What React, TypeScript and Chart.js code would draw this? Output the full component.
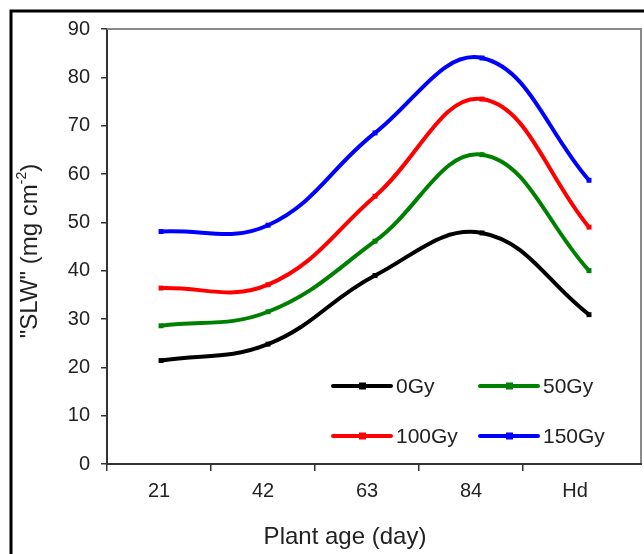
import React, { useEffect, useRef } from "react";
import { Chart, registerables } from "chart.js";

Chart.register(...registerables);

const categories = ["21", "42", "63", "84", "Hd"];
const xPositions = [1, 2, 3, 4, 5];
const seriesNames = ["0Gy", "50Gy", "100Gy", "150Gy"];
const seriesColors = ["#000000", "#008000", "#ff0000", "#0000ff"];
const gy0 = [21.4, 24.8, 39.0, 47.8, 30.9];
const gy50 = [28.6, 31.5, 46.1, 64.0, 40.0];
const gy100 = [36.4, 37.1, 55.4, 75.5, 49.0];
const gy150 = [48.1, 49.4, 68.5, 84.0, 58.7];
const yTicks = [0, 10, 20, 30, 40, 50, 60, 70, 80, 90];
const xTitle = "Plant age (day)";
const yTitleMain = '"SLW" (mg cm';
const yTitleSup = "-2";
const yTitleEnd = ")";

const FONT = "'Liberation Sans', Arial, sans-serif";

const decorPlugin = {
  id: "decor",
  afterDraw(chart: any) {
    const ctx = chart.ctx as CanvasRenderingContext2D;
    const { left, top, bottom } = chart.chartArea;
    const boxRight = 641;
    ctx.save();
    // outer frame
    ctx.strokeStyle = "#000";
    ctx.lineWidth = 3;
    ctx.beginPath();
    ctx.moveTo(11, 600);
    ctx.lineTo(11, 11);
    ctx.lineTo(700, 11);
    ctx.stroke();
    // plot box
    ctx.strokeStyle = "#8a8a8a";
    ctx.lineWidth = 2;
    ctx.beginPath();
    ctx.moveTo(left, top);
    ctx.lineTo(boxRight, top);
    ctx.lineTo(boxRight, bottom);
    ctx.stroke();
    // x axis line
    ctx.strokeStyle = "#333";
    ctx.lineWidth = 2;
    ctx.beginPath();
    ctx.moveTo(left - 1, bottom);
    ctx.lineTo(boxRight + 1, bottom);
    ctx.stroke();

    // x title
    ctx.fillStyle = "#222";
    ctx.font = `24px ${FONT}`;
    ctx.textAlign = "center";
    ctx.textBaseline = "middle";
    ctx.fillText(xTitle, 345, 537);

    // y title with superscript
    ctx.save();
    ctx.translate(30, 251);
    ctx.rotate(-Math.PI / 2);
    ctx.textAlign = "left";
    ctx.textBaseline = "middle";
    ctx.font = `24px ${FONT}`;
    const w1 = ctx.measureText(yTitleMain).width;
    const w3 = ctx.measureText(yTitleEnd).width;
    ctx.font = `14px ${FONT}`;
    const w2 = ctx.measureText(yTitleSup).width;
    let x = -(w1 + w2 + w3) / 2;
    ctx.font = `24px ${FONT}`;
    ctx.fillText(yTitleMain, x, 0);
    x += w1;
    ctx.font = `14px ${FONT}`;
    ctx.fillText(yTitleSup, x, -8);
    x += w2;
    ctx.font = `24px ${FONT}`;
    ctx.fillText(yTitleEnd, x, 0);
    ctx.restore();

    // legend
    chart.data.datasets.forEach((ds: any, i: number) => {
      const col = i % 2;
      const row = Math.floor(i / 2);
      const x0 = 333 + col * 147;
      const y0 = 386 + row * 50;
      ctx.strokeStyle = ds.borderColor;
      ctx.lineWidth = 4;
      ctx.lineCap = "round";
      ctx.beginPath();
      ctx.moveTo(x0, y0);
      ctx.lineTo(x0 + 58, y0);
      ctx.stroke();
      ctx.fillStyle = ds.borderColor;
      ctx.fillRect(x0 + 26, y0 - 3.5, 7, 7);
      ctx.fillStyle = "#222";
      ctx.font = `21px ${FONT}`;
      ctx.textAlign = "left";
      ctx.textBaseline = "middle";
      ctx.fillText(ds.label, x0 + 63, y0 + 1);
    });
    ctx.restore();
  },
};

export default function App() {
  const ref = useRef<HTMLCanvasElement | null>(null);

  useEffect(() => {
    if (!ref.current) return;
    const allSeries = [gy0, gy50, gy100, gy150];
    const chart = new Chart(ref.current, {
      type: "line",
      data: {
        labels: categories,
        datasets: allSeries.map((vals, i) => ({
          label: seriesNames[i],
          data: xPositions.map((xv, j) => ({ x: xv, y: vals[j] })),
          xAxisID: "xd",
          yAxisID: "y",
          borderColor: seriesColors[i],
          backgroundColor: seriesColors[i],
          borderWidth: 4,
          tension: 0.4,
          pointStyle: "rect",
          pointRadius: 3.5,
          pointBorderWidth: 0,
          fill: false,
        })),
      },
      options: {
        animation: false,
        responsive: false,
        maintainAspectRatio: false,
        layout: { padding: { left: 0, top: 29, right: 17, bottom: 0 } },
        plugins: {
          legend: { display: false },
          tooltip: { enabled: false },
        },
        scales: {
          x: {
            type: "category",
            position: "bottom",
            offset: true,
            afterFit: (s: any) => {
              s.height = 90;
            },
            grid: {
              offset: true,
              drawOnChartArea: false,
              drawTicks: true,
              tickLength: 7,
              color: (c: any) => (c.type === "tick" ? "#333" : "rgba(0,0,0,0)"),
              lineWidth: 1.5,
            },
            border: { display: false },
            ticks: {
              color: "#222",
              font: { family: FONT, size: 20 },
              padding: 8,
            },
          },
          xd: {
            type: "linear",
            display: false,
            min: 0.495,
            max: 5.355,
          },
          y: {
            type: "linear",
            min: 0,
            max: 90,
            afterFit: (s: any) => {
              s.width = 107;
            },
            afterBuildTicks: (s: any) => {
              s.ticks = yTicks.map((v) => ({ value: v }));
            },
            grid: {
              drawOnChartArea: false,
              drawTicks: true,
              tickLength: 6,
              color: "#333",
              lineWidth: 1.5,
            },
            border: { display: true, color: "#333", width: 2 },
            ticks: {
              color: "#222",
              font: { family: FONT, size: 20 },
              padding: 11,
            },
          },
        },
      },
      plugins: [decorPlugin],
    });
    return () => chart.destroy();
  }, []);

  return (
    <div style={{ position: "absolute", left: 0, top: 0, width: 644, height: 554, background: "#fff" }}>
      <canvas ref={ref} width={644} height={554} style={{ display: "block" }} />
    </div>
  );
}
